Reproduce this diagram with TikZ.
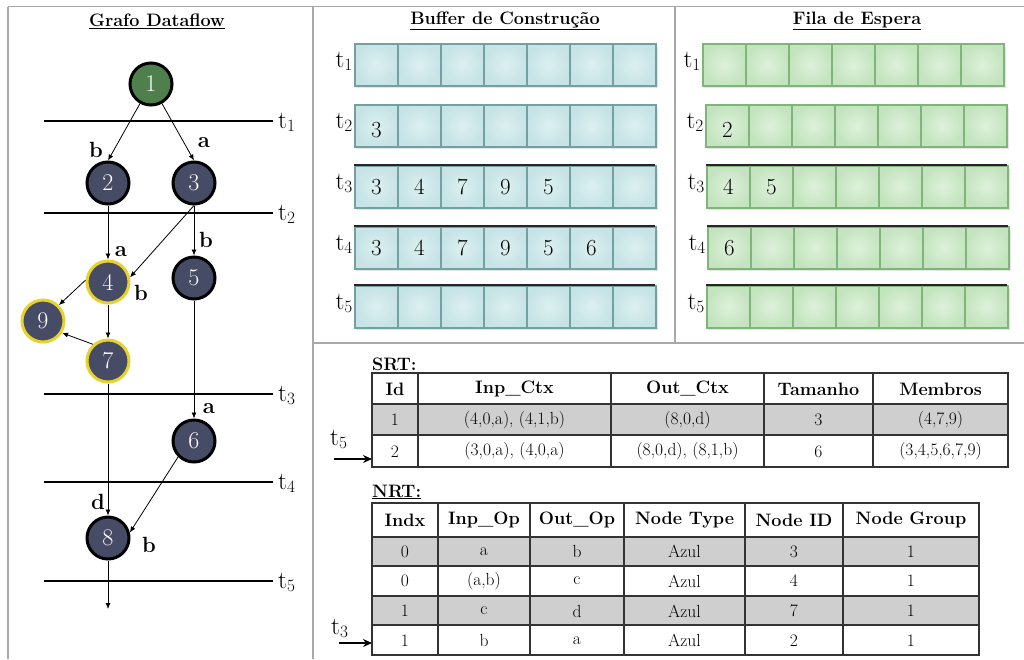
\documentclass[tikz,border=0pt]{standalone}
\usetikzlibrary{arrows.meta}
\definecolor{nodeblue}{HTML}{474C66}
\definecolor{nodegreen}{HTML}{4F7F4C}
\definecolor{ringyellow}{HTML}{E8D22A}
\definecolor{framegray}{HTML}{A8A8A8}
\definecolor{cyanin}{HTML}{DCF0F1}
\definecolor{cyanout}{HTML}{C6E3E5}
\definecolor{cyanedge}{HTML}{75A0A2}
\definecolor{greenin}{HTML}{DDF1DA}
\definecolor{greenout}{HTML}{C4E4BF}
\definecolor{greenedge}{HTML}{80B47A}
\definecolor{rowgray}{HTML}{CFCFCF}
\newcommand{\setfs}[1]{\fontsize{#1}{#1}\selectfont}
\begin{document}
\begin{tikzpicture}[x=1pt,y=-1pt,
  dnode/.style={circle, minimum size=42pt, inner sep=0pt, fill=nodeblue, draw=black,
    line width=3pt, text=white, font=\setfs{24}},
  gnode/.style={dnode, fill=nodegreen},
  ynode/.style={dnode, draw=ringyellow},
  edge/.style={-{Latex[length=6pt,width=5pt]}, line width=0.8pt},
  elabel/.style={font=\bfseries\setfs{22}, inner sep=0pt},
  tline/.style={line width=2.8pt},
  tlab/.style={font=\setfs{25}, anchor=base west, inner sep=0pt},
  tlabr/.style={tlab, anchor=base east},
  title/.style={font=\bfseries\setfs{18}, inner sep=0pt},
  frame/.style={draw=framegray, line width=1.5pt},
  bcell/.style={rectangle, minimum width=43pt, minimum height=42pt, inner sep=0pt,
    anchor=north west, draw=cyanedge, line width=1.6pt, inner color=cyanin, outer color=cyanout},
  gcell/.style={bcell, draw=greenedge, inner color=greenin, outer color=greenout},
  bnum/.style={font=\setfs{23}, inner sep=0pt},
  rowshadow/.style={fill=black, opacity=0.10},
  tabline/.style={draw=black!80, line width=1.3pt},
  thead/.style={font=\bfseries\setfs{18}, inner sep=0pt},
  tbody/.style={font=\setfs{17.5}, inner sep=0pt},
  tarrow/.style={-{Stealth[length=9pt,width=8pt]}, line width=2.4pt}]

\useasboundingbox (0,0) rectangle (1024,659);

% panel frames
\draw[frame] (8,6.5) -- (1024,6.5);
\draw[frame] (8,6.5) -- (8,659);
\draw[frame] (313,6.5) -- (313,659);
\draw[frame] (675,6.5) -- (675,343);
\draw[frame] (313,343) -- (1024,343);

% ---------------- dataflow graph ----------------
\node[title] (gtitle) at (157,21) {\underline{Grafo Dataflow}};

\foreach \i/\y in {1/121, 2/213, 3/394, 4/482, 5/581} {
  \coordinate (la\i) at (44,\y);
  \coordinate (lb\i) at (273,\y);
  \draw[tline] (la\i) -- (lb\i);
  \node[tlab] (lt\i) at (278,\y+7) {$\mathrm{t}_{\i}$};
}

\node[gnode] (n1) at (151,84) {1};
\node[dnode] (n2) at (108,183) {2};
\node[dnode] (n3) at (194,183) {3};
\node[ynode] (n4) at (108,282) {4};
\node[dnode] (n5) at (194,278) {5};
\node[ynode] (n9) at (43,321) {9};
\node[ynode] (n7) at (108,361) {7};
\node[dnode] (n6) at (194,441) {6};
\node[dnode] (n8) at (108,538) {8};
\coordinate (out8) at (108,609);

\draw[edge] (n1) -- (n2.north);
\draw[edge] (n1) -- (n3.north);
\draw[edge] (n2) -- (n4);
\draw[edge] (n3.south) -- (n4.12);
\draw[edge] (n3) -- (n5);
\draw[edge] (n4.175) -- (n9.45);
\draw[edge] (n4) -- (n7);
\draw[edge] (n7.132) -- (n9.-32);
\draw[edge] (n5) -- (n6);
\draw[edge] (n7) -- (n8);
\draw[edge] (n6.-135) -- (n8.14);
\draw[edge] (n8) -- (out8);

\node[elabel] (e12) at (96,150) {b};
\node[elabel] (e13) at (204,143) {a};
\node[elabel] (e24) at (121,252) {a};
\node[elabel] (e34) at (141,293) {b};
\node[elabel] (e35) at (206,240) {b};
\node[elabel] (e56) at (209,409) {a};
\node[elabel] (e78) at (98,502) {d};
\node[elabel] (e68) at (149,545) {b};

% ---------------- construction buffer ----------------
\node[title] (btitle) at (505,21) {\underline{Buffer de Construção}};
\foreach \r/\yt in {1/43, 2/104, 3/165, 4/226, 5/285} {
  \fill[rowshadow] (356,\yt+4) rectangle (658,\yt+45);
  \foreach \c in {0,...,6} \node[bcell] (b\r c\c) at ({354+43*\c},\yt) {};
  \node[tlabr] (bt\r) at (353,\yt+24) {$\mathrm{t}_{\r}$};
}
\foreach \r/\yt in {3/165, 4/226, 5/285}
  \draw[line width=1.2pt, black!85] (354,\yt) -- (655,\yt);
\node[bnum] (bv2c0) at ([yshift=-4pt]b2c0) {3};
\foreach \c/\v in {0/3,1/4,2/7,3/9,4/5} \node[bnum] (bv3c\c) at (b3c\c) {\v};
\foreach \c/\v in {0/3,1/4,2/7,3/9,4/5,5/6} \node[bnum] (bv4c\c) at (b4c\c) {\v};

% ---------------- waiting queue ----------------
\node[title] (ftitle) at (857,21) {\underline{Fila de Espera}};
\foreach \r/\xs/\yt in {1/702/43, 2/705/104, 3/706/165, 4/707/226, 5/706/285} {
  \fill[rowshadow] (\xs+2,\yt+4) rectangle (\xs+304,\yt+45);
  \foreach \c in {0,...,6} \node[gcell] (f\r c\c) at ({\xs+43*\c},\yt) {};
  \node[tlabr] (ft\r) at (\xs-1,\yt+24) {$\mathrm{t}_{\r}$};
}
\foreach \r/\xs/\yt in {3/706/165, 4/707/226, 5/706/285}
  \draw[line width=1.2pt, black!85] (\xs,\yt) -- (\xs+301,\yt);
\node[bnum] (fv2c0) at ([yshift=-4pt]f2c0) {2};
\node[bnum] (fv3c0) at (f3c0) {4};
\node[bnum] (fv3c1) at (f3c1) {5};
\node[bnum] (fv4c0) at (f4c0) {6};

% ---------------- SRT table ----------------
\node[thead, anchor=base west] (srtlab) at (372,370) {SRT:};
\fill[rowgray] (372,404) rectangle (1008,435);
\draw[tabline] (372,373) rectangle (1008,467);
\foreach \y in {404,435} \draw[tabline] (372,\y) -- (1008,\y);
\foreach \x in {418,611,764,873} \draw[tabline] (\x,373) -- (\x,467);
\foreach \c/\x/\t in {1/395/Id, 2/514.5/Inp\_Ctx, 3/687.5/Out\_Ctx, 4/818.5/Tamanho, 5/940.5/Membros}
  \node[thead] (sh\c) at (\x,389) {\t};
\foreach \c/\x/\t in {1/395/1, 2/514.5/{(4,0,a), (4,1,b)}, 3/687.5/{(8,0,d)}, 4/818.5/3, 5/940.5/{(4,7,9)}}
  \node[tbody] (sa\c) at (\x,420) {\t};
\foreach \c/\x/\t in {1/395/2, 2/514.5/{(3,0,a), (4,0,a)}, 3/687.5/{(8,0,d), (8,1,b)}, 4/818.5/6, 5/940.5/{(3,4,5,6,7,9)}}
  \node[tbody] (sb\c) at (\x,451.5) {\t};
\coordinate (srtin) at (372,459);
\coordinate (srtfrom) at (334,459);
\draw[tarrow] (srtfrom) -- (srtin);
\node[tlab] (srtt) at (330,445) {$\mathrm{t}_{5}$};

% ---------------- NRT table ----------------
\node[thead, anchor=base west] (nrtlab) at (372,497) {\underline{NRT:}};
\fill[rowgray] (372,537) rectangle (979,566);
\fill[rowgray] (372,596) rectangle (979,625);
\draw[tabline] (372,503) rectangle (979,655);
\foreach \y in {537,566,596,625} \draw[tabline] (372,\y) -- (979,\y);
\foreach \x in {438,530,624,745,843} \draw[tabline] (\x,503) -- (\x,655);
\foreach \c/\x/\t in {1/405/Indx, 2/484/Inp\_Op, 3/577/Out\_Op, 4/684.5/Node Type, 5/794/Node ID, 6/911/Node Group}
  \node[thead] (nh\c) at (\x,520) {\t};
\foreach \r/\y/\a/\b/\cc/\d/\e/\f in {1/551.5/0/a/b/Azul/3/1, 2/581/0/{(a,b)}/c/Azul/4/1, 3/611/1/c/d/Azul/7/1, 4/640.5/1/b/a/Azul/2/1} {
  \node[tbody] (nr\r c1) at (405,\y) {\a};
  \node[tbody] (nr\r c2) at (484,\y) {\b};
  \node[tbody] (nr\r c3) at (577,\y) {\cc};
  \node[tbody] (nr\r c4) at (684.5,\y) {\d};
  \node[tbody] (nr\r c5) at (794,\y) {\e};
  \node[tbody] (nr\r c6) at (911,\y) {\f};
}
\coordinate (nrtin) at (372,643);
\coordinate (nrtfrom) at (339,643);
\draw[tarrow] (nrtfrom) -- (nrtin);
\node[tlab] (nrtt) at (331,634) {$\mathrm{t}_{3}$};

\end{tikzpicture}
\end{document}
